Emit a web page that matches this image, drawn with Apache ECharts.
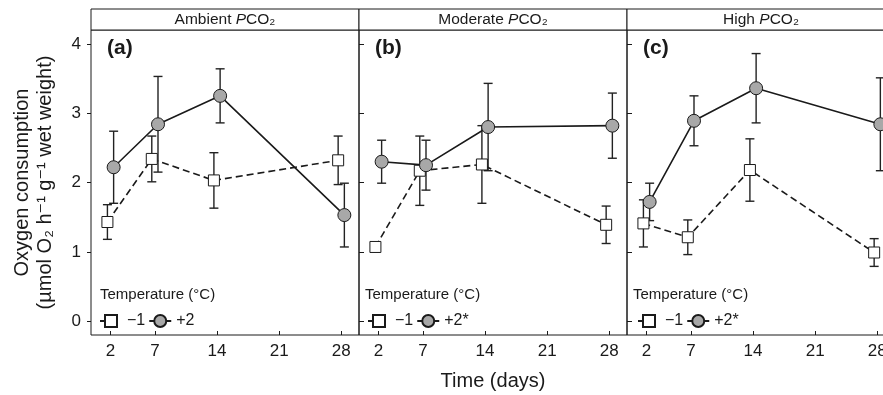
<!DOCTYPE html>
<html>
<head>
<meta charset="utf-8">
<title>Oxygen consumption</title>
<script src="https://cdn.jsdelivr.net/npm/echarts@6.0.0/dist/echarts.min.js"></script>
<style>
  html, body { margin: 0; padding: 0; background: #fff; }
  #chart { width: 883px; height: 395px; }
</style>
</head>
<body>
<div id="chart"></div>
<script>
// sampling days and axis ticks
var days = [2, 7, 14, 28];
var xTicks = [2, 7, 14, 21, 28];
var yTicks = [0, 1, 2, 3, 4];

var panelTitles = ['Ambient', 'Moderate', 'High'];
var panelLetters = ['(a)', '(b)', '(c)'];
var coldName = '\u22121';
var warmNames = ['+2', '+2*', '+2*'];

// -1 °C (open squares), means and error
var coldA = [1.43, 2.34, 2.03, 2.32];
var coldErrA = [0.25, 0.33, 0.40, 0.35];
var coldB = [1.07, 2.17, 2.26, 1.39];
var coldErrB = [0.04, 0.50, 0.56, 0.27];
var coldC = [1.41, 1.21, 2.18, 0.99];
var coldErrC = [0.34, 0.25, 0.45, 0.20];

// +2 °C (grey circles), means and error
var warmA = [2.22, 2.84, 3.25, 1.53];
var warmErrA = [0.52, 0.69, 0.39, 0.46];
var warmB = [2.30, 2.25, 2.80, 2.82];
var warmErrB = [0.31, 0.36, 0.63, 0.47];
var warmC = [1.72, 2.89, 3.36, 2.84];
var warmErrC = [0.27, 0.36, 0.50, 0.67];

var cold = [coldA, coldB, coldC];
var coldErr = [coldErrA, coldErrB, coldErrC];
var warm = [warmA, warmB, warmC];
var warmErr = [warmErrA, warmErrB, warmErrC];

var font = "'Liberation Sans', Arial, 'DejaVu Sans', sans-serif";
var ink = '#1a1a1a';
var gridLeft = [91, 359, 627];
var gridW = 268;
var dodge = 0.35;

function errorBar(params, api) {
  var x = api.value(0);
  var lo = api.coord([x, api.value(1)]);
  var hi = api.coord([x, api.value(2)]);
  var w = 4.5;
  var st = { stroke: '#222', lineWidth: 1.4 };
  return {
    type: 'group',
    children: [
      { type: 'line', shape: { x1: lo[0], y1: lo[1], x2: hi[0], y2: hi[1] }, style: st },
      { type: 'line', shape: { x1: lo[0] - w, y1: lo[1], x2: lo[0] + w, y2: lo[1] }, style: st },
      { type: 'line', shape: { x1: hi[0] - w, y1: hi[1], x2: hi[0] + w, y2: hi[1] }, style: st }
    ]
  };
}

var grids = [], xAxes = [], yAxes = [], series = [], legends = [], graphics = [];

for (var i = 0; i < 3; i++) {
  // the grid border is the panel frame, so axis lines stay hidden
  grids.push({
    left: gridLeft[i], top: 30, width: gridW, height: 305,
    show: true, borderColor: ink, borderWidth: 1,
    outerBoundsMode: 'none'
  });

  xAxes.push({
    gridIndex: i, type: 'value', min: -0.2, max: 30,
    axisLine: { show: false, onZero: false },
    axisTick: { inside: true, length: 4, customValues: xTicks, lineStyle: { color: ink } },
    axisLabel: { customValues: xTicks, fontSize: 17, color: ink, fontFamily: font, margin: 8 },
    splitLine: { show: false },
    name: i === 1 ? 'Time (days)' : '',
    nameLocation: 'middle', nameGap: 36,
    nameTextStyle: { fontSize: 20, color: ink, fontFamily: font }
  });

  yAxes.push({
    gridIndex: i, type: 'value', min: -0.2, max: 4.2,
    axisLine: { show: false, onZero: false },
    axisTick: { show: true, inside: i > 0, length: i > 0 ? 5 : 4, customValues: yTicks, lineStyle: { color: ink } },
    axisLabel: { show: i === 0, customValues: yTicks, fontSize: 17, color: ink, fontFamily: font, margin: 10 },
    splitLine: { show: false },
    name: i === 0 ? 'Oxygen consumption\n(\u00b5mol O\u2082 h\u207b\u00b9 g\u207b\u00b9 wet weight)' : '',
    nameLocation: 'middle', nameGap: 34,
    nameTextStyle: { fontSize: 20, lineHeight: 23, color: ink, fontFamily: font }
  });

  // error bars first so the markers sit on top
  series.push({
    type: 'custom', xAxisIndex: i, yAxisIndex: i, silent: true, z: 1,
    renderItem: errorBar, encode: { x: 0, y: [1, 2] },
    data: days.map(function (d, k) { return [d - dodge, cold[i][k] - coldErr[i][k], cold[i][k] + coldErr[i][k]]; })
  });
  series.push({
    type: 'custom', xAxisIndex: i, yAxisIndex: i, silent: true, z: 1,
    renderItem: errorBar, encode: { x: 0, y: [1, 2] },
    data: days.map(function (d, k) { return [d + dodge, warm[i][k] - warmErr[i][k], warm[i][k] + warmErr[i][k]]; })
  });

  series.push({
    name: coldName, type: 'line', xAxisIndex: i, yAxisIndex: i, z: 3,
    data: days.map(function (d, k) { return [d - dodge, cold[i][k]]; }),
    symbol: 'rect', symbolSize: 11,
    itemStyle: { color: '#fff', borderColor: ink, borderWidth: 1 },
    lineStyle: { color: ink, width: 1.6, type: [7, 4] }
  });
  series.push({
    name: warmNames[i], type: 'line', xAxisIndex: i, yAxisIndex: i, z: 4,
    data: days.map(function (d, k) { return [d + dodge, warm[i][k]]; }),
    symbol: 'circle', symbolSize: 13,
    itemStyle: { color: '#a8a8a8', borderColor: ink, borderWidth: 1 },
    lineStyle: { color: ink, width: 1.6 }
  });

  legends.push({
    left: gridLeft[i] + (i === 2 ? 10 : 8), top: 313, padding: 0,
    itemWidth: 22, itemHeight: 15, itemGap: 3,
    selectedMode: false,
    data: [coldName, warmNames[i]],
    textStyle: { fontSize: 16, color: ink, fontFamily: font }
  });

  // header strip
  graphics.push({
    type: 'rect', z: 10,
    shape: { x: gridLeft[i], y: 9, width: gridW, height: 21 },
    style: { fill: '#fff', stroke: ink, lineWidth: 1 }
  });
  graphics.push({
    type: 'text', z: 11, x: gridLeft[i] + gridW / 2, y: 20,
    style: {
      text: panelTitles[i] + ' {i|P}CO\u2082',
      rich: { i: { fontStyle: 'italic', fontSize: 15.5, fontFamily: font, fill: ink } },
      fontSize: 15.5, fontFamily: font, fill: ink,
      align: 'center', verticalAlign: 'middle'
    }
  });
  graphics.push({
    type: 'text', z: 11, x: gridLeft[i] + 16, y: 48,
    style: {
      text: panelLetters[i], fontSize: 21, fontWeight: 'bold', fontFamily: font, fill: ink,
      align: 'left', verticalAlign: 'middle'
    }
  });
  graphics.push({
    type: 'text', z: 11, x: gridLeft[i] + (i === 0 ? 9 : 6), y: 295,
    style: {
      text: 'Temperature (\u00b0C)', fontSize: 15, fontFamily: font, fill: ink,
      align: 'left', verticalAlign: 'middle'
    }
  });
}

var options = {
  backgroundColor: '#fff',
  animation: false,
  grid: grids,
  xAxis: xAxes,
  yAxis: yAxes,
  legend: legends,
  graphic: graphics,
  series: series
};

var chart = echarts.init(document.getElementById('chart'));
chart.setOption(options);
</script>
</body>
</html>
